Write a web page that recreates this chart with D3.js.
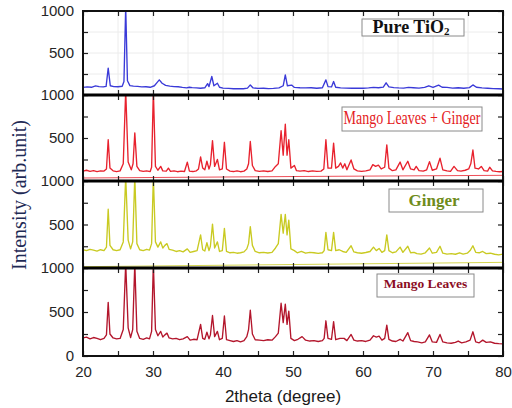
<!DOCTYPE html>
<html>
<head>
<meta charset="utf-8">
<script src="https://cdn.jsdelivr.net/npm/d3@7"></script>
<style>
  body { margin: 0; background: #fff; }
  svg { display: block; }
</style>
</head>
<body>
<svg id="chart" width="512" height="408"></svg>
<script>
// 2theta range and ticks
const xDomain = [20, 80];
const xTicks = [20, 25, 30, 35, 40, 45, 50, 55, 60, 65, 70, 75, 80];
const xLabels = [20, 30, 40, 50, 60, 70, 80];
const yTicks = [0, 250, 500, 750, 1000];

const names = ["Pure TiO2", "Mango Leaves + Ginger", "Ginger", "Mango Leaves"];

// Pure TiO2 pattern (2theta, intensity)
const tio2 = [
[20,90],[20.6,96],[21.2,92],[21.8,108],[22.3,100],[22.9,96],[23.3,102],[23.6,320],[23.9,110],[24.4,100],[25,98],[25.6,104],[25.85,160],[26.1,1050],[26.35,170],[26.7,112],[27.2,105],[27.8,102],[28.4,96],[29,98],[29.6,92],[30.2,110],[30.6,150],[30.9,180],[31.3,140],[31.8,115],[32.4,106],[33,100],[33.6,98],[34.2,90],[34.8,84],[35.2,92],[35.6,88],[36.2,84],[36.8,80],[37.4,86],[37.8,135],[38.0,100],[38.4,220],[38.7,110],[39.2,140],[39.5,92],[40,82],[40.8,78],[41.5,74],[42.2,76],[42.9,74],[43.5,82],[43.9,120],[44.3,84],[45,78],[45.8,80],[46.5,76],[47.2,78],[48,84],[48.6,110],[48.9,240],[49.2,110],[49.8,118],[50.2,90],[51,86],[51.8,84],[52.6,86],[53.4,80],[54.2,86],[54.7,180],[55.0,100],[55.5,96],[55.8,160],[56.1,92],[56.8,84],[57.6,82],[58.4,80],[59.2,82],[60,80],[60.8,84],[61.5,90],[62.2,86],[62.9,94],[63.3,145],[63.7,96],[64.4,88],[65.1,84],[65.8,82],[66.5,90],[67.2,86],[68,82],[68.8,90],[69.4,110],[70,90],[70.8,118],[71.3,92],[72,90],[72.8,82],[73.6,86],[74.4,80],[75.2,88],[75.7,120],[76.2,92],[77,84],[77.8,80],[78.6,76],[79.4,74],[80,72]
];

// Mango Leaves + Ginger pattern
const mlg = [
[20,115],[20.5,125],[21,112],[21.5,120],[22,110],[22.5,118],[23,115],[23.35,140],[23.6,480],[23.85,150],[24.3,118],[24.8,110],[25.3,118],[25.75,200],[26.1,1050],[26.45,220],[26.9,130],[27.15,200],[27.4,560],[27.7,170],[28.1,120],[28.6,112],[29.1,118],[29.6,110],[29.8,160],[30.05,1050],[30.35,170],[30.7,125],[31.1,170],[31.4,118],[31.9,115],[32.2,150],[32.5,112],[33,118],[33.5,108],[34,115],[34.5,110],[34.9,220],[35.2,115],[35.7,110],[36.2,118],[36.5,140],[36.8,280],[37.1,150],[37.4,130],[37.7,230],[38.0,140],[38.2,190],[38.5,470],[38.8,170],[39.2,250],[39.5,130],[39.9,140],[40.2,450],[40.5,140],[41,115],[41.5,110],[42,118],[42.5,108],[43,115],[43.4,140],[43.65,200],[43.9,460],[44.2,180],[44.6,120],[45.2,112],[45.8,118],[46.4,110],[47,118],[47.5,170],[47.9,200],[48.3,585],[48.6,300],[48.9,660],[49.15,300],[49.4,480],[49.7,150],[50.2,180],[50.5,120],[51,115],[51.6,120],[52.2,110],[52.8,118],[53.4,112],[54,115],[54.4,140],[54.7,480],[55.0,150],[55.5,150],[55.8,440],[56.1,150],[56.5,170],[56.8,210],[57.1,150],[57.4,200],[57.7,130],[58.3,245],[58.7,140],[59.2,118],[59.8,112],[60.4,118],[61,130],[61.4,190],[61.8,170],[62.2,185],[62.6,140],[63.1,160],[63.4,420],[63.7,150],[64.2,120],[64.7,130],[65.3,220],[65.7,130],[66.4,230],[66.8,140],[67.3,130],[67.6,170],[68,120],[68.6,115],[69.1,130],[69.5,225],[69.9,125],[70.5,140],[71,265],[71.4,130],[72,118],[72.5,112],[73,170],[73.5,120],[74,115],[74.6,125],[75.1,140],[75.4,200],[75.7,360],[76,150],[76.5,140],[76.9,170],[77.3,120],[77.8,115],[78.1,160],[78.5,118],[79,112],[79.5,108],[80,110]
];
const mlgBackground = [[20,35],[50,52],[80,66]];

// Ginger pattern
const ginger = [
[20,210],[20.5,200],[21,215],[21.5,205],[22,195],[22.5,210],[23,200],[23.35,240],[23.6,675],[23.85,260],[24.3,210],[24.8,200],[25.3,210],[25.75,300],[26.1,1050],[26.45,320],[26.8,220],[27.1,300],[27.4,1050],[27.7,280],[28.1,210],[28.6,200],[29.1,215],[29.5,205],[29.8,280],[30.05,1050],[30.35,300],[30.7,240],[31.1,300],[31.4,230],[31.7,260],[32.0,280],[32.3,215],[32.8,205],[33.3,190],[33.8,200],[34.3,185],[34.9,220],[35.3,180],[35.8,190],[36.3,200],[36.8,380],[37.1,210],[37.4,195],[37.7,290],[38,200],[38.2,250],[38.5,505],[38.8,230],[39.2,300],[39.5,190],[39.9,200],[40.2,455],[40.5,190],[41,175],[41.5,180],[42,170],[42.5,175],[43,185],[43.4,220],[43.65,280],[43.9,475],[44.2,260],[44.6,190],[45.2,175],[45.8,180],[46.4,172],[47,180],[47.5,230],[47.9,280],[48.3,617],[48.6,400],[48.9,617],[49.15,380],[49.4,550],[49.7,220],[50.2,200],[50.6,175],[51.2,190],[51.8,170],[52.4,180],[53,175],[53.6,168],[54.2,175],[54.45,200],[54.7,410],[55.0,210],[55.5,200],[55.8,410],[56.1,200],[56.6,210],[57.1,190],[57.6,180],[58.3,256],[58.7,185],[59.2,175],[59.8,170],[60.4,178],[61,190],[61.5,240],[61.9,200],[62.3,225],[62.7,180],[63.1,200],[63.4,380],[63.7,200],[64.2,175],[64.7,185],[65.3,240],[65.7,180],[66.4,250],[66.8,175],[67.3,180],[67.7,165],[68.3,160],[68.9,175],[69.5,230],[69.9,170],[70.5,180],[71,250],[71.4,170],[72,160],[72.6,165],[73.2,158],[73.8,175],[74.3,160],[74.9,170],[75.3,200],[75.7,256],[76.1,180],[76.6,175],[77.1,190],[77.6,165],[78.2,170],[78.8,158],[79.4,150],[80,160]
];
const gingerBackground = [[20,15],[50,40],[80,65]];

// Mango Leaves pattern
const mango = [
[20,205],[20.5,215],[21,195],[21.5,210],[22,200],[22.5,185],[23,200],[23.35,240],[23.6,610],[23.85,250],[24.3,205],[24.8,195],[25.3,200],[25.75,300],[26.1,1050],[26.45,320],[26.8,210],[27.1,300],[27.4,1050],[27.7,280],[28.1,200],[28.6,190],[29.1,205],[29.5,195],[29.8,280],[30.05,1050],[30.35,300],[30.7,230],[31.1,280],[31.4,215],[31.7,240],[32.0,260],[32.3,205],[32.8,195],[33.3,200],[33.8,185],[34.3,195],[34.9,220],[35.3,180],[35.8,190],[36.3,185],[36.8,360],[37.1,200],[37.4,190],[37.7,270],[38,195],[38.2,240],[38.5,460],[38.8,220],[39.2,280],[39.5,185],[39.9,200],[40.2,455],[40.5,185],[41,175],[41.5,165],[42,175],[42.5,160],[43,175],[43.4,220],[43.65,300],[43.9,520],[44.2,250],[44.6,185],[45.2,180],[45.8,175],[46.4,185],[47,180],[47.5,220],[47.9,260],[48.3,600],[48.6,380],[48.9,590],[49.15,360],[49.4,510],[49.7,200],[50.2,175],[50.7,190],[51.3,220],[51.8,180],[52.4,170],[53,175],[53.6,165],[54.2,175],[54.45,200],[54.7,400],[55.0,200],[55.5,190],[55.8,390],[56.1,185],[56.7,200],[57.3,200],[57.7,175],[58.3,245],[58.7,180],[59.2,170],[59.8,175],[60.4,165],[61,180],[61.5,230],[61.9,215],[62.3,225],[62.7,180],[63.1,200],[63.4,350],[63.7,190],[64.2,170],[64.7,165],[65.3,190],[65.7,170],[66.4,265],[66.8,175],[67.3,165],[67.8,160],[68.4,150],[68.9,160],[69.5,240],[69.9,160],[70.5,155],[71,245],[71.4,160],[72,150],[72.6,145],[73.2,155],[73.6,170],[74.1,150],[74.7,160],[75.3,180],[75.7,275],[76.1,160],[76.6,150],[77.1,180],[77.6,155],[78.2,160],[78.8,145],[79.4,140],[80,138]
];

const svg = d3.select("#chart");
const left = 83, right = 503;
const edges = [11, 95, 181, 268, 356];

const x = d3.scaleLinear().domain(xDomain).range([left, right]);

const panels = [
  { data: tio2, bg: null, color: "#3a3ad8", grid: true },
  { data: mlg, bg: mlgBackground, color: "#e8222e" },
  { data: ginger, bg: gingerBackground, color: "#c9ca22" },
  { data: mango, bg: null, color: "#b3162c" }
];

const defs = svg.append("defs");

panels.forEach((p, i) => {
  const top = edges[i], bottom = edges[i + 1];
  const y = d3.scaleLinear().domain([0, 1000]).range([bottom, top]);
  const g = svg.append("g");

  defs.append("clipPath").attr("id", "clip" + i)
    .append("rect").attr("x", left).attr("y", top)
    .attr("width", right - left).attr("height", bottom - top);

  if (p.grid) {
    g.append("g").selectAll("line").data(xTicks.slice(1, -1)).join("line")
      .attr("x1", d => x(d)).attr("x2", d => x(d))
      .attr("y1", top).attr("y2", bottom)
      .attr("stroke", "#ececec").attr("stroke-width", 1);
    g.append("g").selectAll("line").data([250, 500, 750]).join("line")
      .attr("x1", left).attr("x2", right)
      .attr("y1", d => y(d)).attr("y2", d => y(d))
      .attr("stroke", "#ececec").attr("stroke-width", 1);
  }

  const line = d3.line().x(d => x(d[0])).y(d => y(d[1]));
  const plot = g.append("g").attr("clip-path", "url(#clip" + i + ")");
  if (p.bg) {
    plot.append("path").datum(p.bg).attr("d", line)
      .attr("fill", "none").attr("stroke", p.color).attr("stroke-width", 0.8);
  }
  plot.append("path").datum(p.data).attr("d", line)
    .attr("fill", "none").attr("stroke", p.color)
    .attr("stroke-width", 1.35).attr("stroke-linejoin", "round");

  // inward ticks on all four sides
  const isLast = i === panels.length - 1;
  const fmtY = d => {
    if (d === 500 || d === 1000) return d;
    if (d === 0 && isLast) return "0";
    return "";
  };
  g.append("g").attr("transform", `translate(${left},0)`)
    .call(d3.axisLeft(y).tickValues(yTicks).tickSize(-5).tickPadding(9).tickFormat(fmtY));
  g.append("g").attr("transform", `translate(${right},0)`)
    .call(d3.axisRight(y).tickValues(yTicks).tickSize(-5).tickFormat(""));
  g.append("g").attr("transform", `translate(0,${top})`)
    .call(d3.axisTop(x).tickValues(xTicks).tickSize(-5).tickFormat(""));
  g.append("g").attr("transform", `translate(0,${bottom})`)
    .call(d3.axisBottom(x).tickValues(xTicks).tickSize(-5).tickPadding(10)
      .tickFormat(d => (isLast && xLabels.includes(d)) ? d : ""));

  g.selectAll(".domain").remove();
  g.selectAll(".tick line").attr("stroke", "#222").attr("stroke-width", 1.2);
  g.selectAll(".tick text").attr("font-family", "Liberation Sans, Arial, sans-serif")
    .attr("font-size", 15).attr("fill", "#262626");

  g.append("rect").attr("x", left).attr("y", top)
    .attr("width", right - left).attr("height", bottom - top)
    .attr("fill", "none").attr("stroke", "#111").attr("stroke-width", 2);
});

// thicker separators between panels
svg.append("g").selectAll("line").data(edges.slice(1, -1)).join("line")
  .attr("x1", left).attr("x2", right)
  .attr("y1", d => d).attr("y2", d => d)
  .attr("stroke", "#000").attr("stroke-width", 3);

// legend boxes
const serif = "Liberation Serif, Times New Roman, serif";
function legendBox(x0, y0, w, h) {
  svg.append("rect").attr("x", x0).attr("y", y0).attr("width", w).attr("height", h)
    .attr("fill", "#fff").attr("stroke", "#8a8a8a").attr("stroke-width", 1);
}

legendBox(362, 19, 102, 17);
const t1 = svg.append("text").attr("x", 411).attr("y", 32.5)
  .attr("text-anchor", "middle").attr("font-family", serif)
  .attr("font-size", 18).attr("font-weight", "bold").attr("fill", "#111");
t1.append("tspan").text("Pure TiO");
t1.append("tspan").attr("font-size", 11).attr("dy", 2).text("2");

legendBox(342, 107, 140, 24);
svg.append("text").attr("x", 412).attr("y", 124)
  .attr("text-anchor", "middle")
  .attr("font-family", serif).attr("font-size", 18).attr("fill", "#e41a22")
  .attr("transform", "translate(412,0) scale(0.78,1) translate(-412,0)")
  .text(names[1]);

legendBox(389, 189, 94, 23);
svg.append("text").attr("x", 434).attr("y", 205.5)
  .attr("text-anchor", "middle").attr("font-family", serif)
  .attr("font-size", 17).attr("font-weight", "bold").attr("fill", "#6f8c1c")
  .text(names[2]);

legendBox(377, 274, 97, 23);
svg.append("text").attr("x", 425.5).attr("y", 288)
  .attr("text-anchor", "middle")
  .attr("font-family", serif).attr("font-size", 13.5).attr("font-weight", "bold")
  .attr("fill", "#8c0d1f")
  .text(names[3]);

// axis titles
svg.append("text").attr("transform", "translate(26,195) rotate(-90)")
  .attr("text-anchor", "middle").attr("font-family", serif)
  .attr("font-size", 20).attr("fill", "#1e2a55")
  .text("Intensity (arb.unit)");

svg.append("text").attr("x", 283).attr("y", 402)
  .attr("text-anchor", "middle").attr("font-family", "Liberation Sans, Arial, sans-serif")
  .attr("font-size", 17).attr("fill", "#1a1a1a")
  .text("2theta (degree)");
</script>
</body>
</html>
